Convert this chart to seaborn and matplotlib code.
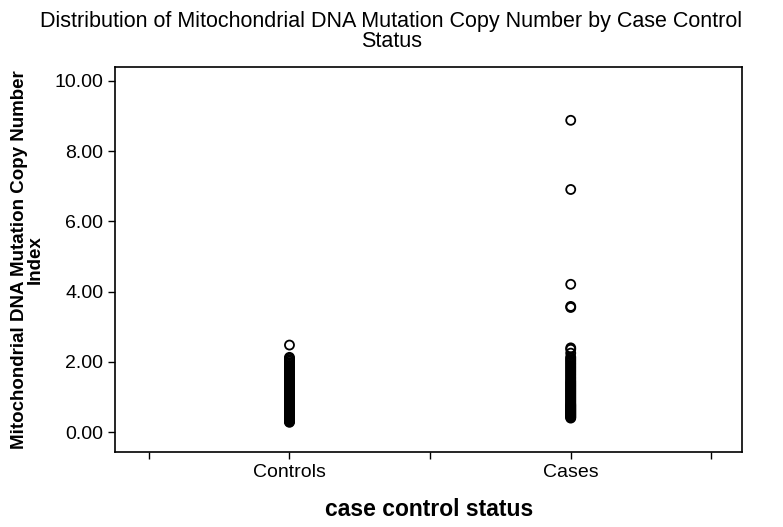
"""
Strip plot of mitochondrial DNA mutation copy number index by case control status
"""

import matplotlib
matplotlib.use('Agg')
import matplotlib.pyplot as plt
import seaborn as sns
import pandas as pd

sns.set_style("ticks")
plt.rcParams['font.family'] = ['Liberation Sans', 'DejaVu Sans']
plt.rcParams['text.color'] = 'black'
plt.rcParams['axes.labelcolor'] = 'black'
plt.rcParams['xtick.color'] = 'black'
plt.rcParams['ytick.color'] = 'black'

# values
groups = ['Controls', 'Cases']
controls = [0.28, 0.30, 0.32, 0.34, 0.36, 0.38, 0.40, 0.42, 0.44, 0.46,
            0.48, 0.50, 0.52, 0.54, 0.56, 0.58, 0.60, 0.62, 0.64, 0.66,
            0.68, 0.70, 0.72, 0.74, 0.76, 0.78, 0.80, 0.83, 0.86, 0.89,
            0.92, 0.95, 0.98, 1.01, 1.04, 1.07, 1.10, 1.13, 1.16, 1.19,
            1.22, 1.25, 1.28, 1.31, 1.34, 1.37, 1.40, 1.43, 1.46, 1.50,
            1.54, 1.58, 1.62, 1.66, 1.70, 1.74, 1.78, 1.82, 1.86, 1.90,
            1.94, 1.98, 2.02, 2.06, 2.10, 2.13, 2.48]
cases = [0.40, 0.42, 0.44, 0.46, 0.48, 0.50, 0.52, 0.54, 0.56, 0.58,
         0.60, 0.62, 0.64, 0.66, 0.68, 0.70, 0.72, 0.74, 0.76, 0.78,
         0.80, 0.83, 0.86, 0.89, 0.92, 0.95, 0.98, 1.01, 1.04, 1.07,
         1.10, 1.13, 1.16, 1.19, 1.22, 1.25, 1.28, 1.31, 1.34, 1.37,
         1.40, 1.43, 1.46, 1.50, 1.54, 1.58, 1.62, 1.66, 1.70, 1.74,
         1.78, 1.82, 1.86, 1.90, 1.94, 1.98, 2.02, 2.06, 2.10, 2.14,
         2.25, 2.36, 2.40, 3.55, 3.58, 4.21, 6.91, 8.88]
y_ticks = [0, 2, 4, 6, 8, 10]

df = pd.DataFrame({
    'status': [groups[0]] * len(controls) + [groups[1]] * len(cases),
    'value': controls + cases,
})

fig = plt.figure(figsize=(7.83, 5.27), dpi=100)
ax = fig.add_axes([0.147, 0.142, 0.801, 0.731])

sns.stripplot(data=df, x='status', y='value', order=groups, jitter=False,
              size=6.5, linewidth=1.3, edgecolor='black', color='white', ax=ax)
for c in ax.collections:
    c.set_facecolor('none')
    c.set_edgecolor('black')

ax.set_xlim(-0.62, 1.61)
ax.set_ylim(-0.57, 10.4)
ax.set_yticks(y_ticks)
ax.set_yticklabels([f'{v:.2f}' for v in y_ticks], fontsize=14)
ax.set_xticks([0, 1])
ax.set_xticklabels(groups, fontsize=14)
ax.set_xticks([-0.5, 0.5, 1.5], minor=True)
ax.tick_params(which='both', direction='out', length=5, width=1, color='black')

for s in ax.spines.values():
    s.set_visible(True)
    s.set_color('black')
    s.set_linewidth(1.2)

ax.set_xlabel('case control status', fontsize=16.5, fontweight='bold', labelpad=12)
ax.set_ylabel('Mitochondrial DNA Mutation Copy Number\nIndex', fontsize=13.5,
              fontweight='bold', linespacing=0.9, labelpad=8)
fig.text(0.5, 0.98, 'Distribution of Mitochondrial DNA Mutation Copy Number by Case Control\nStatus',
         ha='center', va='top', fontsize=15.5, linespacing=0.95)

fig.savefig('out.png', dpi=100)
